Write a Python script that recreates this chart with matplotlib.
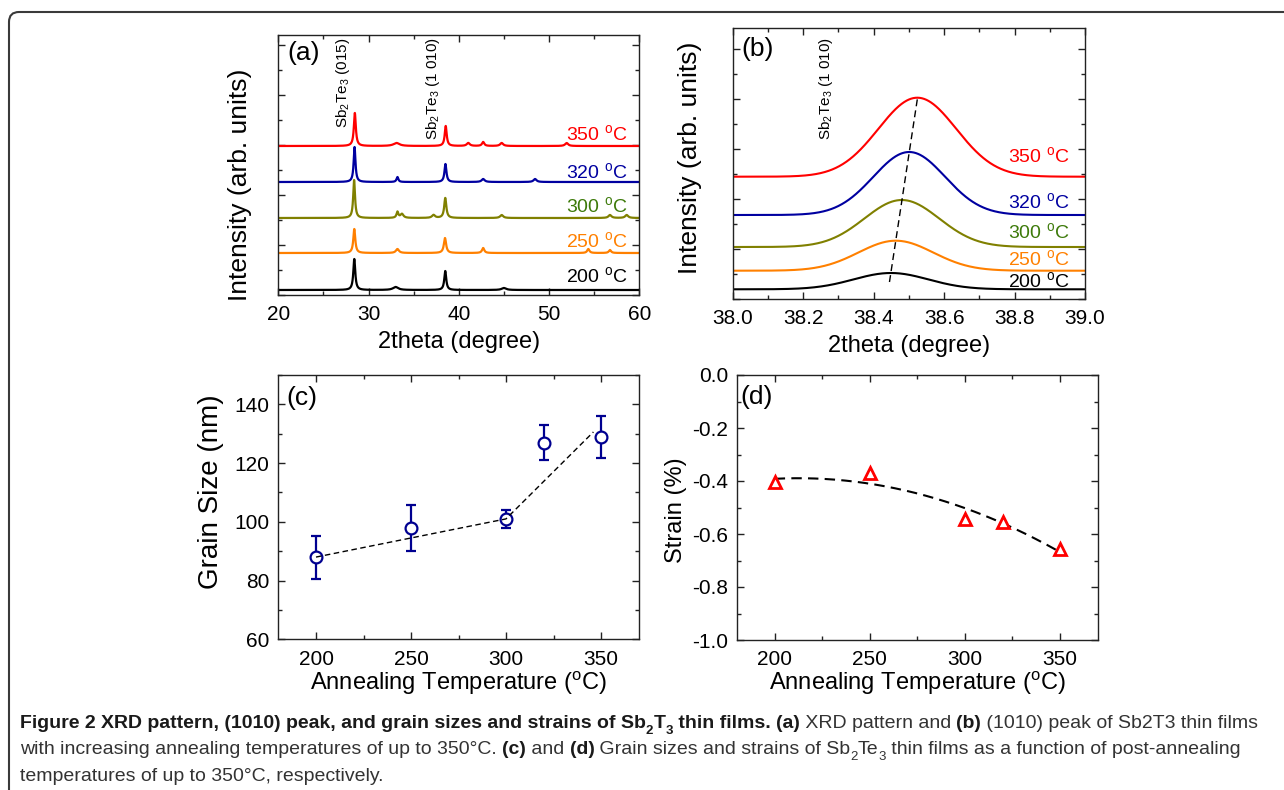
import numpy as np
import matplotlib
matplotlib.use('Agg')
import matplotlib.pyplot as plt
from matplotlib.patches import FancyBboxPatch
from matplotlib.transforms import IdentityTransform
from matplotlib.ticker import MultipleLocator, NullFormatter, FormatStrFormatter

plt.rcParams['font.family'] = ['Liberation Sans', 'DejaVu Sans']
plt.rcParams['mathtext.fontset'] = 'custom'
plt.rcParams['mathtext.rm'] = 'Liberation Sans'
plt.rcParams['mathtext.it'] = 'Liberation Sans:italic'
plt.rcParams['mathtext.bf'] = 'Liberation Sans:bold'
plt.rcParams['axes.unicode_minus'] = False

W, H = 1284, 790

# annealing temperatures
temps = [200, 250, 300, 320, 350]
temp_names = ['200', '250', '300', '320', '350']
line_colors = ['black', '#ff8000', '#808000', '#0000a0', '#ff0000']
text_colors = ['black', '#ff8000', '#3d7a0a', '#0000a0', '#ff0000']

# (a) XRD scans: vertical offset of each scan and its peaks (2theta, height, hwhm)
xrd_offset = [5, 42, 77, 113, 149]
xrd_peaks_200 = [(28.42, 31, 0.13), (38.5, 19, 0.13), (33.0, 3, 0.35), (45.0, 2, 0.3)]
xrd_peaks_250 = [(28.42, 24, 0.13), (38.47, 15, 0.15), (33.2, 4, 0.2), (42.7, 5, 0.15),
                 (54.35, 4, 0.15), (56.75, 3, 0.15)]
xrd_peaks_300 = [(28.4, 38, 0.12), (38.5, 20, 0.14), (33.2, 6, 0.12), (33.7, 4, 0.2),
                 (37.2, 3, 0.2), (44.75, 3, 0.2), (56.75, 3, 0.2), (58.6, 3, 0.2)]
xrd_peaks_320 = [(28.45, 35, 0.12), (38.52, 18, 0.13), (33.2, 5, 0.12), (42.7, 3, 0.2),
                 (48.45, 3, 0.2)]
xrd_peaks_350 = [(28.48, 33, 0.13), (38.55, 20, 0.13), (33.1, 3, 0.4), (41.05, 3, 0.2),
                 (42.7, 4, 0.15), (44.75, 3, 0.2), (51.95, 3, 0.2)]
xrd_peaks = [xrd_peaks_200, xrd_peaks_250, xrd_peaks_300, xrd_peaks_320, xrd_peaks_350]
xrd_label_y = [13, 48, 83, 117, 155]

# (b) fitted (1 0 10) peaks
fit_base = [9.7, 28.3, 52, 84, 122.3]
fit_height = [16.3, 30, 47, 63, 79]
fit_center = [38.449, 38.463, 38.480, 38.501, 38.524]
fit_fwhm = [0.25, 0.25, 0.25, 0.24, 0.26]
fit_label_y = [12.3, 34, 60.7, 90.7, 137.3]
shift_x = [38.445, 38.525]
shift_y = [17, 202]

# (c) grain size
grain = [88, 98, 101, 127, 129]
grain_err = [7.3, 7.9, 3.0, 5.9, 7.2]
grain_guide_x = [200, 300, 346]
grain_guide_y = [88, 101, 130.6]

# (d) strain
strain = [-0.405, -0.37, -0.545, -0.555, -0.655]

fig = plt.figure(figsize=(W / 100, H / 100), dpi=100)


def axes_px(left, top, right, bottom):
    return fig.add_axes([left / W, 1 - bottom / H, (right - left) / W, (bottom - top) / H])


def style(ax):
    ax.tick_params(which='both', direction='in', top=True, right=True,
                   labelsize=15, pad=7.5, color='#222222')
    ax.tick_params(axis='y', pad=6)
    ax.tick_params(which='major', length=5, width=1)
    ax.tick_params(which='minor', length=3, width=1)
    for s in ax.spines.values():
        s.set_linewidth(1.0)
        s.set_color('#222222')


deg = r'$\mathregular{^{o}}$C'
sbte = r'Sb$\mathregular{_2}$Te$\mathregular{_3}$'

# ---- (a) XRD pattern
axa = axes_px(278.3, 35, 639.3, 295)
style(axa)
x = np.linspace(20, 60, 4001)
for i in range(5):
    y = np.full_like(x, xrd_offset[i], dtype=float)
    for c, h, w in xrd_peaks[i]:
        y += h / (1 + ((x - c) / w) ** 2)
    axa.plot(x, y, color=line_colors[i], lw=1.6)
    axa.text(58.64, xrd_label_y[i], temp_names[i] + ' ' + deg, color=text_colors[i],
             fontsize=14, ha='right', va='baseline')
axa.set_xlim(20, 60)
axa.set_ylim(0, 260)
axa.xaxis.set_major_locator(MultipleLocator(10))
axa.xaxis.set_minor_locator(MultipleLocator(5))
axa.yaxis.set_major_locator(MultipleLocator(50))
axa.yaxis.set_minor_locator(MultipleLocator(25))
axa.yaxis.set_major_formatter(NullFormatter())
axa.text(27.14, 167, sbte + ' (015)', rotation=90, fontsize=11, ha='center', va='bottom')
axa.text(37.14, 155, sbte + ' (1 010)', rotation=90, fontsize=11, ha='center', va='bottom')
axa.text(0.024, 0.93, '(a)', transform=axa.transAxes, fontsize=19, va='center')
axa.set_xlabel('2theta (degree)', fontsize=17, va='center')
axa.xaxis.set_label_coords(0.5, -0.181)
axa.set_ylabel('Intensity (arb. units)', fontsize=19, va='center')
axa.yaxis.set_label_coords(-0.106, 0.423)

# ---- (b) (1 0 10) peak
axb = axes_px(732.7, 28, 1085, 299)
style(axb)
xb = np.linspace(38, 39, 801)
for i in range(5):
    sig = fit_fwhm[i] / 2.3548
    yb = fit_base[i] + fit_height[i] * np.exp(-0.5 * ((xb - fit_center[i]) / sig) ** 2)
    axb.plot(xb, yb, color=line_colors[i], lw=1.5)
    axb.text(38.957, fit_label_y[i], temp_names[i] + ' ' + deg, color=text_colors[i],
             fontsize=14, ha='right', va='baseline')
axb.plot(shift_x, shift_y, color='black', lw=1.0, ls=(0, (5, 3)))
axb.set_xlim(38, 39)
axb.set_ylim(0, 271)
axb.xaxis.set_major_locator(MultipleLocator(0.2))
axb.xaxis.set_minor_locator(MultipleLocator(0.1))
axb.xaxis.set_major_formatter(FormatStrFormatter('%.1f'))
axb.yaxis.set_major_locator(MultipleLocator(50))
axb.yaxis.set_minor_locator(MultipleLocator(25))
axb.yaxis.set_major_formatter(NullFormatter())
axb.text(38.265, 159, sbte + ' (1 010)', rotation=90, fontsize=11, ha='center', va='bottom')
axb.text(0.0255, 0.922, '(b)', transform=axb.transAxes, fontsize=19, va='center')
axb.set_xlabel('2theta (degree)', fontsize=17, va='center')
axb.xaxis.set_label_coords(0.5, -0.173)
axb.set_ylabel('Intensity (arb. units)', fontsize=19, va='center')
axb.yaxis.set_label_coords(-0.121, 0.52)

# ---- (c) grain size
navy = '#000090'
axc = axes_px(278, 375, 639, 639.3)
style(axc)
axc.errorbar(temps, grain, yerr=grain_err, fmt='o', mfc='white', mec=navy, ms=8.5,
             mew=1.6, ecolor=navy, elinewidth=1.6, capsize=3.5, capthick=1.6, zorder=3)
axc.plot(grain_guide_x, grain_guide_y, color='black', lw=1.0, ls=(0, (4, 2.5)), zorder=4)
axc.set_xlim(180, 370)
axc.set_ylim(60, 150)
axc.xaxis.set_major_locator(MultipleLocator(50))
axc.xaxis.set_minor_locator(MultipleLocator(25))
axc.yaxis.set_major_locator(MultipleLocator(20))
axc.yaxis.set_minor_locator(MultipleLocator(10))
axc.text(0.023, 0.913, '(c)', transform=axc.transAxes, fontsize=19, va='center')
axc.set_xlabel('Annealing Temperature (' + deg + ')', fontsize=17, va='center')
axc.xaxis.set_label_coords(0.5, -0.165)
axc.set_ylabel('Grain Size (nm)', fontsize=20, va='center')
axc.yaxis.set_label_coords(-0.186, 0.56)

# ---- (d) strain
axd = axes_px(736.7, 375, 1097.5, 640)
style(axd)
coef = np.polyfit(temps, strain, 2)
xf = np.linspace(200, 350, 200)
axd.plot(xf, np.polyval(coef, xf), color='black', lw=1.5, ls=(0, (5, 3)), zorder=2)
axd.plot(temps, strain, '^', mfc='white', mec='#ff0000', ms=9, mew=2, ls='none', zorder=3)
axd.set_xlim(180, 370)
axd.set_ylim(-1.0, 0.0)
axd.xaxis.set_major_locator(MultipleLocator(50))
axd.xaxis.set_minor_locator(MultipleLocator(25))
axd.yaxis.set_major_locator(MultipleLocator(0.2))
axd.yaxis.set_minor_locator(MultipleLocator(0.1))
axd.yaxis.set_major_formatter(FormatStrFormatter('%.1f'))
axd.text(0.011, 0.917, '(d)', transform=axd.transAxes, fontsize=19, va='center')
axd.set_xlabel('Annealing Temperature (' + deg + ')', fontsize=17, va='center')
axd.xaxis.set_label_coords(0.5, -0.162)
axd.set_ylabel('Strain (%)', fontsize=17, va='center')
axd.yaxis.set_label_coords(-0.168, 0.49)

# ---- frame with rounded top-left corner
frame = FancyBboxPatch((9, -50), 1500, H - 12 + 50, boxstyle='round,pad=0,rounding_size=10',
                       transform=IdentityTransform(), fill=False, ec='#3a3a3a', lw=1.5)
fig.patches.append(frame)

# ---- caption, set piece by piece so bold, regular and subscripts can mix
cap_family = ['Liberation Sans', 'DejaVu Sans']
cap_size = 14
renderer = fig.canvas.get_renderer()


def caption_line(x, y, parts):
    for s, bold, sub in parts:
        size = cap_size * 0.68 if sub else cap_size
        dy = -cap_size * 0.3 * 100 / 72 if sub else 0
        t = fig.text(x / W, 1 - (y - dy) / H, s, fontsize=size,
                     weight='bold' if bold else 'normal', family=cap_family,
                     color='#1a1a1a' if bold else '#333333', ha='left', va='baseline')
        x += t.get_window_extent(renderer).width


caption_line(20, 728, [
    ('Figure 2 XRD pattern, (1010) peak, and grain sizes and strains of Sb', True, False),
    ('2', True, True), ('T', True, False), ('3', True, True),
    (' thin films. ', True, False), ('(a)', True, False),
    (' XRD pattern and ', False, False), ('(b)', True, False),
    (' (1010) peak of Sb2T3 thin films', False, False)])
caption_line(20, 754, [
    ('with increasing annealing temperatures of up to 350\u00b0C. ', False, False),
    ('(c)', True, False), (' and ', False, False), ('(d)', True, False),
    (' Grain sizes and strains of Sb', False, False), ('2', False, True),
    ('Te', False, False), ('3', False, True),
    (' thin films as a function of post-annealing', False, False)])
caption_line(20, 781, [('temperatures of up to 350\u00b0C, respectively.', False, False)])

fig.savefig('out.png', dpi=100)
